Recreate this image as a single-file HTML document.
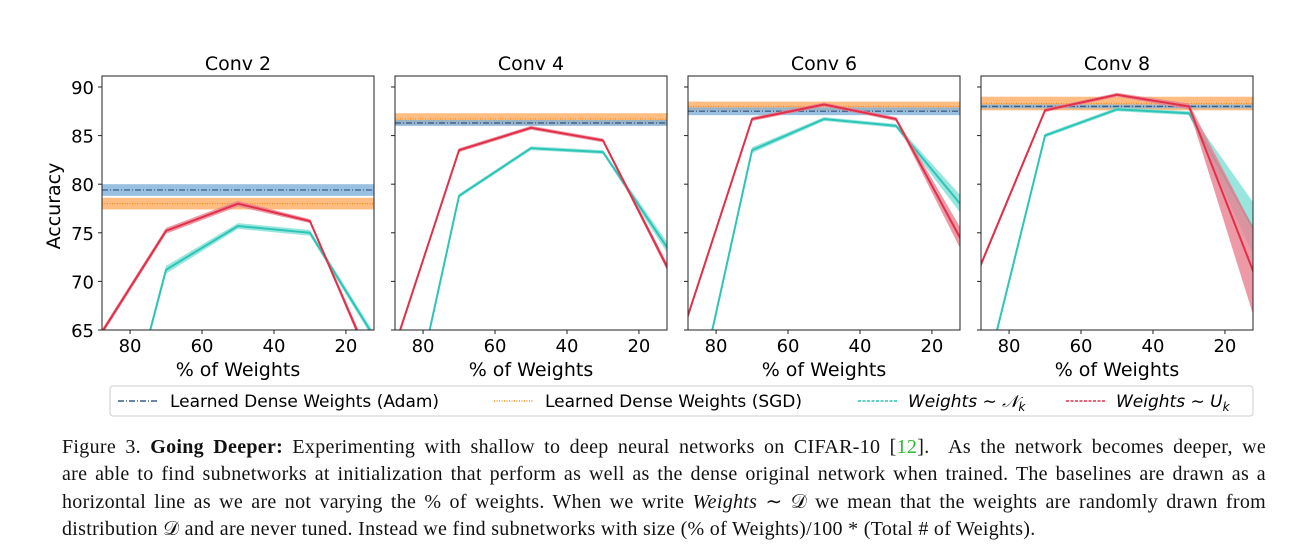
<!DOCTYPE html>
<html><head><meta charset="utf-8">
<style>
body{margin:0;background:#fff;width:1290px;height:558px;overflow:hidden;position:relative}
svg{position:absolute;left:0;top:0}
#cap{position:absolute;left:62px;top:434px;width:1204px;font-family:"Liberation Serif",serif;font-size:20px;letter-spacing:0.3px;line-height:27.4px;color:#111}
#cap div{text-align:justify;text-align-last:justify;white-space:nowrap}
#cap div.last{text-align-last:left}
</style></head><body>
<svg id="chart" width="1290" height="430"></svg>
<div id="cap">
<div>Figure 3. <b>Going Deeper:</b> Experimenting with shallow to deep neural networks on CIFAR-10 [<span style="color:#2db82d">12</span>]. &nbsp;As the network becomes deeper, we</div>
<div>are able to find subnetworks at initialization that perform as well as the dense original network when trained. The baselines are drawn as a</div>
<div>horizontal line as we are not varying the % of weights. When we write <i>Weights</i> ∼ 𝒟 we mean that the weights are randomly drawn from</div>
<div class="last">distribution 𝒟 and are never tuned. Instead we find subnetworks with size (% of Weights)/100 * (Total # of Weights).</div>
</div>
<script>
const titles=["Conv 2","Conv 4","Conv 6","Conv 8"];
const xs=[90,70,50,30,10];
const redVals=[[63.5,75.2,78,76.2,59],[60.9,83.5,85.8,84.5,69.9],[64,86.7,88.2,86.7,73],[69.8,87.6,89.2,88,69]];
const tealVals=[[43,71.2,75.7,75,63],[45,78.8,83.7,83.3,72.3],[50,83.5,86.7,86,77],[55,85,87.7,87.3,74]];
const redErr=[[0.3,0.3,0.3,0.2,0.5],[0.3,0.2,0.2,0.2,0.4],[0.3,0.2,0.2,0.2,1.2],[0.3,0.2,0.2,0.3,5]];
const tealErr=[[0.3,0.4,0.3,0.3,0.4],[0.3,0.2,0.2,0.2,0.6],[0.3,0.3,0.2,0.2,1],[0.3,0.2,0.2,0.2,3]];
const adam=[79.4,86.3,87.5,88];
const adamErr=[0.6,0.3,0.4,0.2];
const sgd=[78,86.7,88,88.3];
const sgdErr=[0.6,0.6,0.5,0.7];
const yTicks=[65,70,75,80,85,90];
const xTicks=[80,60,40,20];

const NS="http://www.w3.org/2000/svg";
const svg=document.getElementById('chart');
function mk(t,a,p){const e=document.createElementNS(NS,t);for(const k in a)e.setAttribute(k,a[k]);(p||svg).appendChild(e);return e;}
const panelX=[102,395,688,981],PW=272,PT=76,PB=330;
const yMin=65,yMax=91.13,xL=87.8,xR=12.2;
const yS=v=>PB-(v-yMin)/(yMax-yMin)*(PB-PT);
titles.forEach((t,i)=>{
  const x0=panelX[i];
  const xS=v=>x0+(xL-v)/(xL-xR)*PW;
  const g=mk('g',{});
  
  
  const cp=mk('clipPath',{id:'c'+i},g);mk('rect',{x:x0,y:PT,width:PW,height:PB-PT},cp);
  const pl=mk('g',{'clip-path':'url(#c'+i+')'},g);
  const sb=mk('rect',{x:x0,y:yS(sgd[i]+sgdErr[i]),width:PW,height:yS(sgd[i]-sgdErr[i])-yS(sgd[i]+sgdErr[i]),fill:'#ffb26b',opacity:0.85},pl);
  
  const ab=mk('rect',{x:x0,y:yS(adam[i]+adamErr[i]),width:PW,height:yS(adam[i]-adamErr[i])-yS(adam[i]+adamErr[i]),fill:'#7fb0d8',opacity:0.8},pl);
  
  const sl=mk('line',{x1:x0,x2:x0+PW,y1:yS(sgd[i]),y2:yS(sgd[i]),stroke:'#ff8c1a','stroke-width':1.2,'stroke-dasharray':'1,1.5'},pl);
  
  const al=mk('line',{x1:x0,x2:x0+PW,y1:yS(adam[i]),y2:yS(adam[i]),stroke:'#3a5f8a','stroke-width':1.3,'stroke-dasharray':'6,2,1,2'},pl);
  
  [[tealVals,tealErr,'#2ec4b6','#7fe0d6','teal'],[redVals,redErr,'#e0304a','#ea8090','red']].forEach(([V,E,c,fc,n])=>{
    const v=V[i],e=E[i];
    let d=xs.map((x,k)=>(k?'L':'M')+xS(x)+','+yS(v[k]+e[k])).join('')+xs.slice().reverse().map((x,k)=>'L'+xS(x)+','+yS(v[4-k]-e[4-k])).join('')+'Z';
    const b=mk('path',{d:d,fill:fc,opacity:0.8},pl);
    
    const l=mk('polyline',{points:xs.map((x,k)=>xS(x)+','+yS(v[k])).join(' '),fill:'none',stroke:c,'stroke-width':2},pl);
    
  });
  const fr=mk('rect',{x:x0,y:PT,width:PW,height:PB-PT,fill:'none',stroke:'#222','stroke-width':1},g);
  
  const tt=mk('text',{x:x0+PW/2,y:70,'text-anchor':'middle','font-family':'DejaVu Sans, sans-serif','font-size':19},g);tt.textContent=t;
  
  yTicks.forEach(v=>{mk('line',{x1:x0-4,x2:x0,y1:yS(v),y2:yS(v),stroke:'#222'},g);
    if(i==0){const l=mk('text',{x:x0-8,y:yS(v)+7,'text-anchor':'end','font-family':'DejaVu Sans, sans-serif','font-size':18},g);l.textContent=v;
    }});
  xTicks.forEach(v=>{mk('line',{x1:xS(v),x2:xS(v),y1:PB,y2:PB+4,stroke:'#222'},g);
    const l=mk('text',{x:xS(v),y:352,'text-anchor':'middle','font-family':'DejaVu Sans, sans-serif','font-size':18},g);l.textContent=v;
    });
  const xt=mk('text',{x:x0+PW/2,y:376,'text-anchor':'middle','font-family':'DejaVu Sans, sans-serif','font-size':19},g);xt.textContent='% of Weights';
  
});
const yt=mk('text',{x:60,y:206,'text-anchor':'middle','font-family':'DejaVu Sans, sans-serif','font-size':19,transform:'rotate(-90 60 206)'});yt.textContent='Accuracy';

const lg=mk('g',{});

mk('rect',{x:110,y:386,width:1143,height:30,fill:'#fff',stroke:'#ccc',rx:3},lg);
const items=[[118,'#3a5f8a','6,2,1,2',170,'Learned Dense Weights (Adam)',false],[494,'#ff8c1a','1,1.5',545,'Learned Dense Weights (SGD)',false],[858,'#2ec4b6','3,1.5',908,'Weights ∼ 𝒩',true,'k'],[1066,'#e0304a','3,1.5',1116,'Weights ∼ U',true,'k']];
items.forEach(it=>{
  const e=mk('g',{},lg);
  
  mk('line',{x1:it[0],x2:it[0]+40,y1:401,y2:401,stroke:it[1],'stroke-width':1.5,'stroke-dasharray':it[2]},e);
  const t=mk('text',{x:it[3],y:407,'font-family':'DejaVu Sans, sans-serif','font-size':17,'font-style':it[5]?'italic':'normal'},e);
  t.textContent=it[4];
  if(it[6]){const s=mk('tspan',{'font-size':12,dy:4},t);s.textContent=it[6];}
});
</script>
</body></html>
